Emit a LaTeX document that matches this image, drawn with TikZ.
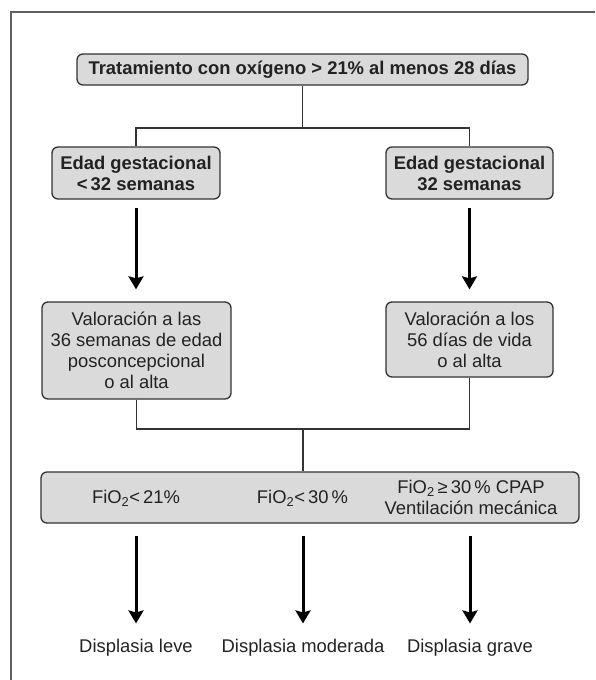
\documentclass[tikz,border=0pt]{standalone}
\usepackage{fontspec}
\setmainfont{Liberation Sans}
\usetikzlibrary{arrows.meta}
\definecolor{boxfill}{HTML}{DADADA}
\definecolor{ink}{HTML}{222222}
\definecolor{edge}{HTML}{333333}
\begin{document}
\begin{tikzpicture}[x=1pt,y=-1pt,
  every node/.style={text=ink, font=\fontsize{18.4}{21}\selectfont},
  gbox/.style={draw=edge, line width=1.3pt, fill=boxfill, rounded corners=6pt, align=center, inner sep=0pt},
  bbox/.style={gbox, font=\fontsize{18.4}{21}\selectfont\bfseries},
  plain/.style={align=center, inner sep=0pt},
  conn/.style={draw=edge, line width=1.2pt},
  bigarrow/.style={draw=black, line width=3pt, -{Stealth[length=13pt,width=15pt,inset=2pt]}},
]
\useasboundingbox (0,0) rectangle (595,680);
% frame
\draw[gray!75!black, line width=1.2pt] (595,12) -- (11,12) -- (11,680);

% nodes
\node[bbox, minimum width=451pt, minimum height=31pt] (top) at (302.5,69.5) {Tratamiento con oxígeno > 21\% al menos 28 días};
\node[bbox, minimum width=168pt, minimum height=52pt] (l1) at (136,173) {Edad gestacional\\<\,32 semanas};
\node[bbox, minimum width=167pt, minimum height=52pt] (r1) at (469.5,173) {Edad gestacional\\32 semanas};
\node[gbox, minimum width=189pt, minimum height=97pt] (l2) at (136.5,350.5) {Valoración a las\\36 semanas de edad\\posconcepcional\\o al alta};
\node[gbox, minimum width=167pt, minimum height=75pt] (r2) at (469.5,339.5) {Valoración a los\\56 días de vida\\o al alta};
\node[gbox, minimum width=538pt, minimum height=51pt] (bot) at (310,497.5) {};
\node[plain] (f1) at (136,498) {FiO\textsubscript{2}<\,21\%};
\node[plain] (f2) at (302.5,498) {FiO\textsubscript{2}<\,30\,\%};
\node[plain] (f3) at (471,497) {FiO\textsubscript{2}\,≥\,30\,\% CPAP\\Ventilación mecánica};
\node[plain, anchor=base] (d1) at (136,652) {Displasia leve};
\node[plain, anchor=base] (d2) at (303,652) {Displasia moderada};
\node[plain, anchor=base] (d3) at (470,652) {Displasia grave};

% junctions
\coordinate (j1) at (302.5,128);
\coordinate (j2) at (303,429);

% connectors
\draw[conn] (top.south) -- (j1);
\draw[conn] (l1.north) |- (j1) -| (r1.north);
\draw[bigarrow, shorten <=8pt, shorten >=12pt] (l1.south) -- (l1.south |- l2.north);
\draw[bigarrow, shorten <=8pt, shorten >=12pt] (r1.south) -- (r1.south |- r2.north);
\draw[conn] (l2.south) |- (j2);
\draw[conn] (r2.south) |- (j2);
\draw[conn] (j2) -- (j2 |- bot.north);
\draw[bigarrow, shorten <=12pt, shorten >=15pt] (d1.north |- bot.south) -- (d1.north);
\draw[bigarrow, shorten <=12pt, shorten >=15pt] (d2.north |- bot.south) -- (d2.north);
\draw[bigarrow, shorten <=12pt, shorten >=15pt] (d3.north |- bot.south) -- (d3.north);
\end{tikzpicture}
\end{document}
